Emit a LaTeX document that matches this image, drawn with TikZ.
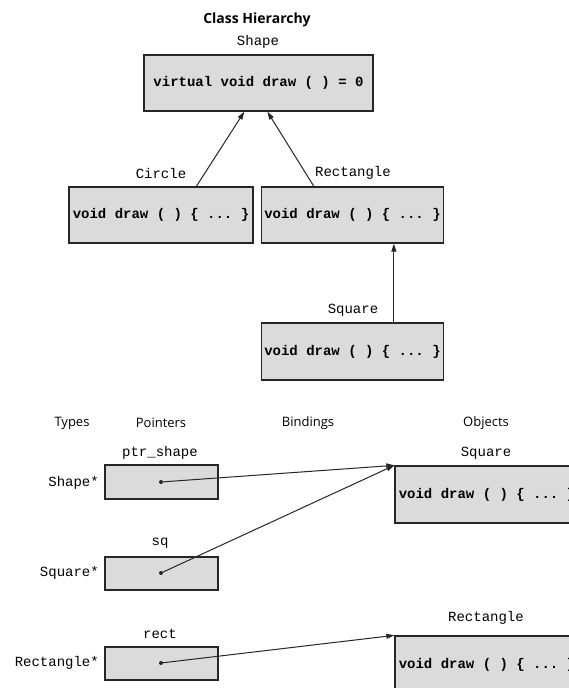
\documentclass[tikz,border=0pt]{standalone}
\usepackage{fontspec}
\setmainfont{Open Sans}
\setmonofont{Liberation Mono}
\usetikzlibrary{arrows.meta}
\begin{document}
\begin{tikzpicture}[x=1pt,y=-1pt,
  box/.style={draw=black!85, line width=1.3pt, fill=black!14, inner sep=0pt,
    font=\fontsize{14}{16}\selectfont\ttfamily\bfseries},
  lbl/.style={font=\fontsize{14}{16}\selectfont\ttfamily, inner sep=0pt},
  hdr/.style={font=\fontsize{13}{15}\selectfont, inner sep=0pt},
  arr/.style={draw=black!85, line width=1pt, -{Triangle[length=8pt,width=5pt]}},
  ptrdot/.style={circle, fill=black!85, inner sep=0pt, minimum size=4pt}]
\clip (0,0) rectangle (569,688);
\fill[white] (0,0) rectangle (569,688);

% ---------- class hierarchy ----------
\node[hdr, font=\fontsize{14}{16}\selectfont\bfseries] (title) at (257,20) {Class Hierarchy};
\node[lbl] (lshape) at (258,42) {Shape};
\node[box, minimum width=229pt, minimum height=56pt] (shape) at (258.5,83) {virtual void draw ( ) = 0};

\node[lbl] (lcircle) at (161,173) {Circle};
\node[box, minimum width=184pt, minimum height=56pt] (circ) at (161,215) {void draw ( ) \{ ... \}};

\node[lbl] (lrect) at (353,173) {Rectangle};
\node[box, minimum width=182pt, minimum height=56pt] (rect) at (352.5,215) {void draw ( ) \{ ... \}};

\node[lbl] (lsquare) at (353,310) {Square};
\node[box, minimum width=182pt, minimum height=57pt] (sq) at (352.5,351.5) {void draw ( ) \{ ... \}};

\draw[arr] ([xshift=128pt]circ.north west) -- ([xshift=101pt]shape.south west);
\draw[arr] ([xshift=53pt]rect.north west) -- ([xshift=124pt]shape.south west);
\draw[arr] ([xshift=133pt]sq.north west) -- ([xshift=133pt]rect.south west);

% ---------- bindings ----------
\node[hdr] (htypes) at (72,423) {Types};
\node[hdr] (hptr) at (161,423) {Pointers};
\node[hdr] (hbind) at (308,423) {Bindings};
\node[hdr] (hobj) at (486,423) {Objects};

\node[lbl] (lptrshape) at (160,453) {ptr\_shape};
\node[box, minimum width=113pt, minimum height=34pt] (p1) at (161.5,482) {};
\node[lbl, anchor=east] (t1) at (99,483) {Shape*};
\node[ptrdot] (d1) at (161,482) {};

\node[lbl] (lsq) at (160,543) {sq};
\node[box, minimum width=113pt, minimum height=33pt] (p2) at (161.5,573.5) {};
\node[lbl, anchor=east] (t2) at (99,573) {Square*};
\node[ptrdot] (d2) at (161,573) {};

\node[lbl] (lrct) at (160,634) {rect};
\node[box, minimum width=113pt, minimum height=33pt] (p3) at (161.5,663.5) {};
\node[lbl, anchor=east] (t3) at (99,663) {Rectangle*};
\node[ptrdot] (d3) at (161,663) {};

\node[lbl] (losq) at (486,453) {Square};
\node[box, minimum width=184pt, minimum height=57pt] (osq) at (487,494.5) {void draw ( ) \{ ... \}};

\node[lbl] (lorect) at (486,618) {Rectangle};
\node[box, minimum width=184pt, minimum height=57pt] (orect) at (487,664.5) {void draw ( ) \{ ... \}};

\draw[arr] (d1) -- (osq.north west);
\draw[arr] (d2) -- (osq.north west);
\draw[arr] (d3) -- (orect.north west);
\end{tikzpicture}
\end{document}
